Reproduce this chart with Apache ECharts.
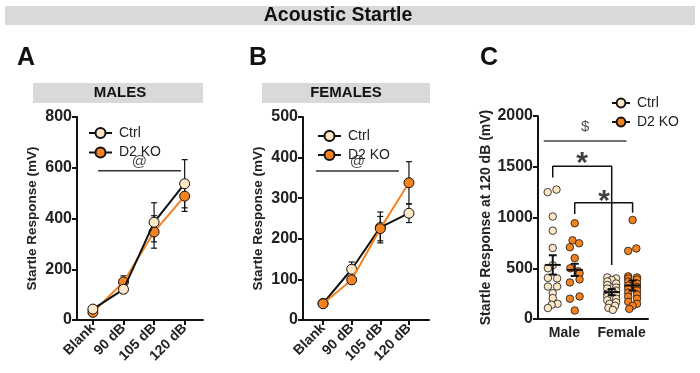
<!DOCTYPE html>
<html>
<head>
<meta charset="utf-8">
<script src="https://cdn.jsdelivr.net/npm/echarts@6/dist/echarts.min.js"></script>
<style>
  html, body { margin: 0; padding: 0; background: #fff; }
  #chart { width: 700px; height: 373px; }
</style>
</head>
<body>
<div id="chart"></div>
<script>
// panels A / B : mean startle response per stimulus
var doses = ['Blank', '90 dB', '105 dB', '120 dB'];
var maleCtrl = [43, 121, 385, 537];
var maleCtrlSem = [6, 15, 77, 95];
var maleKo = [30, 150, 347, 488];
var maleKoSem = [5, 24, 64, 60];
var femaleCtrl = [41, 125, 228, 263];
var femaleCtrlSem = [4, 18, 38, 23];
var femaleKo = [40, 99, 225, 338];
var femaleKoSem = [4, 10, 30, 52];

// panel C : individual animals at 120 dB (value + horizontal jitter)
var sexes = ['Male', 'Female'];
var sexPos = [1.2, 3.8];
var groupPos = [0.67, 1.67, 3.35, 4.3]; // male ctrl, male ko, female ctrl, female ko
var maleCtrl120 = [1250, 1275, 1010, 870, 700, 530, 500, 405, 400, 320, 320, 255, 206, 150, 140, 108];
var maleCtrl120Jit = [-0.23, 0.17, 0, 0, 0, 0, -0.22, -0.22, 0.2, -0.22, 0.2, 0, 0, 0.22, -0.05, -0.22];
var maleKo120 = [943, 775, 746, 707, 600, 500, 470, 450, 390, 360, 222, 200, 84];
var maleKo120Jit = [0, -0.1, 0.2, -0.22, 0, -0.2, 0.15, 0.22, 0.22, -0.22, 0.22, -0.22, 0];
var femaleCtrl120 = [410, 400, 385, 370, 350, 335, 310, 300, 280, 265, 250, 240, 220, 200, 185, 165, 150, 130, 110, 90];
var femaleCtrl120Jit = [-0.2, 0.2, 0, -0.2, 0.2, -0.2, 0.2, -0.2, 0.2, 0, -0.2, 0.2, -0.2, 0.2, -0.2, 0.2, -0.1, 0.15, -0.15, 0.05];
var femaleKo120 = [975, 695, 671, 420, 410, 400, 390, 370, 350, 330, 315, 300, 280, 260, 240, 220, 200, 170, 150, 130, 100];
var femaleKo120Jit = [0, 0.17, -0.2, -0.2, 0.2, -0.2, 0.2, -0.2, 0.2, -0.2, 0.2, -0.2, 0.2, -0.2, 0.2, -0.2, 0.2, -0.2, 0.2, 0, -0.15];
var mean120 = [533, 484, 265, 330];
var sem120 = [95, 60, 30, 50];

// significance marks
var sigA = [[0.17, 588], [2.88, 588]];
var sigB = [[-0.25, 367], [2.65, 367]];
var sigDollar = [[0.26, 1754], [4.02, 1754]];
var sigBracket1 = [[0.67, 1395], [0.67, 1506], [3.35, 1506], [3.35, 533]];
var sigBracket2 = [[1.67, 1034], [1.67, 1145], [4.3, 1145], [4.3, 1047]];
var sigLabelsA = [[1.52, 625, '@']];
var sigLabelsB = [[1.2, 389, '@']];
var sigLabelsC = [[2.14, 1892, '$'], [2.0, 1530, '*'], [3.0, 1155, '*']];

var FONT = '"Liberation Sans", Arial, sans-serif';
var CTRL = '#fde6c6';
var KO = '#f58220';

var chart = echarts.init(document.getElementById('chart'));

function errorBars (cap, lw) {
  return function (params, api) {
    var x = api.value(0), y = api.value(1), e = api.value(2);
    var top = api.coord([x, y + e]);
    var bot = api.coord([x, y - e]);
    var st = { stroke: '#111', lineWidth: lw };
    return {
      type: 'group',
      children: [
        { type: 'line', shape: { x1: top[0], y1: top[1], x2: bot[0], y2: bot[1] }, style: st },
        { type: 'line', shape: { x1: top[0] - cap, y1: top[1], x2: top[0] + cap, y2: top[1] }, style: st },
        { type: 'line', shape: { x1: bot[0] - cap, y1: bot[1], x2: bot[0] + cap, y2: bot[1] }, style: st }
      ]
    };
  };
}

function meanSem (params, api) {
  var x = api.value(0), m = api.value(1), e = api.value(2);
  var c = api.coord([x, m]);
  var top = api.coord([x, m + e]);
  var bot = api.coord([x, m - e]);
  var st = { stroke: '#111', lineWidth: 2 };
  return {
    type: 'group',
    children: [
      { type: 'line', shape: { x1: c[0] - 8, y1: c[1], x2: c[0] + 8, y2: c[1] }, style: st },
      { type: 'line', shape: { x1: top[0], y1: top[1], x2: bot[0], y2: bot[1] }, style: st },
      { type: 'line', shape: { x1: top[0] - 4, y1: top[1], x2: top[0] + 4, y2: top[1] }, style: st },
      { type: 'line', shape: { x1: bot[0] - 4, y1: bot[1], x2: bot[0] + 4, y2: bot[1] }, style: st }
    ]
  };
}

function pairs (vals) {
  return vals.map(function (v, i) { return [i, v]; });
}
function withSem (vals, sem) {
  return vals.map(function (v, i) { return [i, v, sem[i]]; });
}
function jittered (vals, jit, center) {
  return vals.map(function (v, i) { return [center + jit[i], v]; });
}

function doseXAxis (idx, min, max) {
  return {
    gridIndex: idx, type: 'value', min: min, max: max,
    splitLine: { show: false },
    axisLine: { show: true, onZero: false, lineStyle: { color: '#111', width: 2 } },
    axisTick: { show: true, length: 5, lineStyle: { width: 2, color: '#111' }, customValues: [0, 1, 2, 3] },
    axisLabel: {
      customValues: [0, 1, 2, 3], rotate: 45, margin: 6,
      fontFamily: FONT, fontWeight: 'bold', fontSize: 14, color: '#222',
      formatter: function (v) { return doses[Math.round(v)]; }
    }
  };
}

function respYAxis (idx, max, interval, name, nameGap, nameSize) {
  return {
    gridIndex: idx, type: 'value', min: 0, max: max, interval: interval,
    splitLine: { show: false },
    axisLine: { show: true, onZero: false, lineStyle: { color: '#111', width: 2 } },
    axisTick: { show: true, length: 5, lineStyle: { width: 2, color: '#111' } },
    axisLabel: {
      margin: 5, fontFamily: FONT, fontWeight: 'bold', fontSize: 16, color: '#222',
      formatter: function (v) { return String(v); }
    },
    name: name, nameLocation: 'middle', nameGap: nameGap,
    nameTextStyle: { fontFamily: FONT, fontWeight: 'bold', fontSize: nameSize, color: '#222' }
  };
}

function legendAt (left, top, w, h, gap) {
  return {
    left: left, top: top, orient: 'vertical', itemWidth: w, itemHeight: h, itemGap: gap,
    selectedMode: false,
    textStyle: { fontFamily: FONT, fontSize: 14, color: '#222', padding: [0, 0, 0, 2] },
    data: [
      { name: 'Ctrl', lineStyle: { color: '#111', width: 2 } },
      { name: 'D2 KO', lineStyle: { color: '#111', width: 2 } }
    ]
  };
}

function sigLine (xi, yi, pts, color) {
  return {
    type: 'line', xAxisIndex: xi, yAxisIndex: yi, data: pts, symbol: 'none', silent: true,
    lineStyle: { color: color, width: 1.5 }, z: 1
  };
}

function sigText (xi, yi, pts, rich) {
  return {
    type: 'scatter', xAxisIndex: xi, yAxisIndex: yi, symbolSize: 0, silent: true,
    data: pts,
    label: {
      show: true, position: 'inside',
      formatter: function (p) { return (p.value[2] === '*' ? '{s|' : '{d|') + p.value[2] + '}'; },
      rich: rich
    },
    z: 5
  };
}

var sigRich = {
  s: { fontSize: 30, fontWeight: 'bold', fontFamily: FONT, color: '#111' },
  d: { fontSize: 15, fontFamily: FONT, color: '#222' }
};

function doseLine (name, xi, vals, fill, lineColor, z) {
  return {
    name: name, type: 'line', xAxisIndex: xi, yAxisIndex: xi, data: pairs(vals),
    symbol: 'circle', symbolSize: 10, z: z,
    lineStyle: { color: lineColor, width: 2 },
    itemStyle: { color: fill, borderColor: '#111', borderWidth: 1 }
  };
}

function errSeries (xi, vals, sem) {
  return {
    type: 'custom', xAxisIndex: xi, yAxisIndex: xi, data: withSem(vals, sem),
    renderItem: errorBars(3, 1.2), z: 1, silent: true
  };
}

function dots (name, vals, jit, center, fill) {
  return {
    name: name, type: 'line', xAxisIndex: 2, yAxisIndex: 2,
    data: jittered(vals, jit, center),
    symbol: 'circle', symbolSize: 7.5, z: 3,
    lineStyle: { opacity: 0 },
    itemStyle: { color: fill, borderColor: '#111', borderWidth: 0.8 }
  };
}

var option = {
  animation: false,
  backgroundColor: '#fff',
  graphic: [
    { type: 'rect', shape: { x: 5, y: 6, width: 690, height: 19 }, style: { fill: '#d9d9d9' } },
    { type: 'text', x: 338, y: 16, style: { text: 'Acoustic Startle', font: 'bold 19.5px ' + FONT, fill: '#111', align: 'center', verticalAlign: 'middle' } },
    { type: 'text', x: 17, y: 58, style: { text: 'A', font: 'bold 25px ' + FONT, fill: '#111', verticalAlign: 'middle' } },
    { type: 'text', x: 249, y: 58, style: { text: 'B', font: 'bold 25px ' + FONT, fill: '#111', verticalAlign: 'middle' } },
    { type: 'text', x: 480, y: 58, style: { text: 'C', font: 'bold 25px ' + FONT, fill: '#111', verticalAlign: 'middle' } },
    { type: 'rect', shape: { x: 33, y: 83, width: 170, height: 20 }, style: { fill: '#d9d9d9' } },
    { type: 'text', x: 120, y: 93, style: { text: 'MALES', font: 'bold 15px ' + FONT, fill: '#111', align: 'center', verticalAlign: 'middle' } },
    { type: 'rect', shape: { x: 262, y: 83, width: 168, height: 20 }, style: { fill: '#d9d9d9' } },
    { type: 'text', x: 346, y: 93, style: { text: 'FEMALES', font: 'bold 15px ' + FONT, fill: '#111', align: 'center', verticalAlign: 'middle' } }
  ],
  legend: [
    legendAt(83, 121, 23, 12.5, 5.5),
    legendAt(312, 124, 23, 12.5, 5),
    legendAt(606, 91, 18, 11, 5)
  ],
  grid: [
    { left: 77, top: 117, width: 126, height: 203 },
    { left: 303, top: 117, width: 126, height: 203 },
    { left: 538, top: 116, width: 110, height: 203 }
  ],
  xAxis: [
    doseXAxis(0, -0.52, 3.6),
    doseXAxis(1, -0.7, 3.7),
    {
      gridIndex: 2, type: 'value', min: 0, max: 5,
      splitLine: { show: false },
      axisLine: { show: true, onZero: false, lineStyle: { color: '#111', width: 2 } },
      axisTick: { show: false },
      axisLabel: {
        customValues: sexPos, margin: 7,
        fontFamily: FONT, fontWeight: 'bold', fontSize: 14, color: '#222',
        formatter: function (v) { return sexes[sexPos.indexOf(v)]; }
      }
    }
  ],
  yAxis: [
    respYAxis(0, 800, 200, 'Startle Response (mV)', 38, 13.5),
    respYAxis(1, 500, 100, 'Startle Response (mV)', 38, 13.5),
    respYAxis(2, 2000, 500, 'Startle Response at 120 dB (mV)', 42, 14)
  ],
  series: [
    // panel A
    errSeries(0, maleKo, maleKoSem),
    errSeries(0, maleCtrl, maleCtrlSem),
    doseLine('D2 KO', 0, maleKo, KO, KO, 2),
    doseLine('Ctrl', 0, maleCtrl, CTRL, '#111', 3),
    sigLine(0, 0, sigA, '#333'),
    sigText(0, 0, sigLabelsA, sigRich),
    // panel B
    errSeries(1, femaleKo, femaleKoSem),
    errSeries(1, femaleCtrl, femaleCtrlSem),
    doseLine('Ctrl', 1, femaleCtrl, CTRL, '#111', 2),
    doseLine('D2 KO', 1, femaleKo, KO, KO, 3),
    sigLine(1, 1, sigB, '#333'),
    sigText(1, 1, sigLabelsB, sigRich),
    // panel C
    dots('Ctrl', maleCtrl120, maleCtrl120Jit, groupPos[0], CTRL),
    dots('D2 KO', maleKo120, maleKo120Jit, groupPos[1], KO),
    dots('Ctrl', femaleCtrl120, femaleCtrl120Jit, groupPos[2], CTRL),
    dots('D2 KO', femaleKo120, femaleKo120Jit, groupPos[3], KO),
    {
      type: 'custom', xAxisIndex: 2, yAxisIndex: 2, silent: true, z: 4,
      data: mean120.map(function (m, i) { return [groupPos[i], m, sem120[i]]; }),
      renderItem: meanSem
    },
    sigLine(2, 2, sigDollar, '#444'),
    sigLine(2, 2, sigBracket1, '#111'),
    sigLine(2, 2, sigBracket2, '#111'),
    sigText(2, 2, sigLabelsC, sigRich)
  ]
};

chart.setOption(option);
</script>
</body>
</html>
